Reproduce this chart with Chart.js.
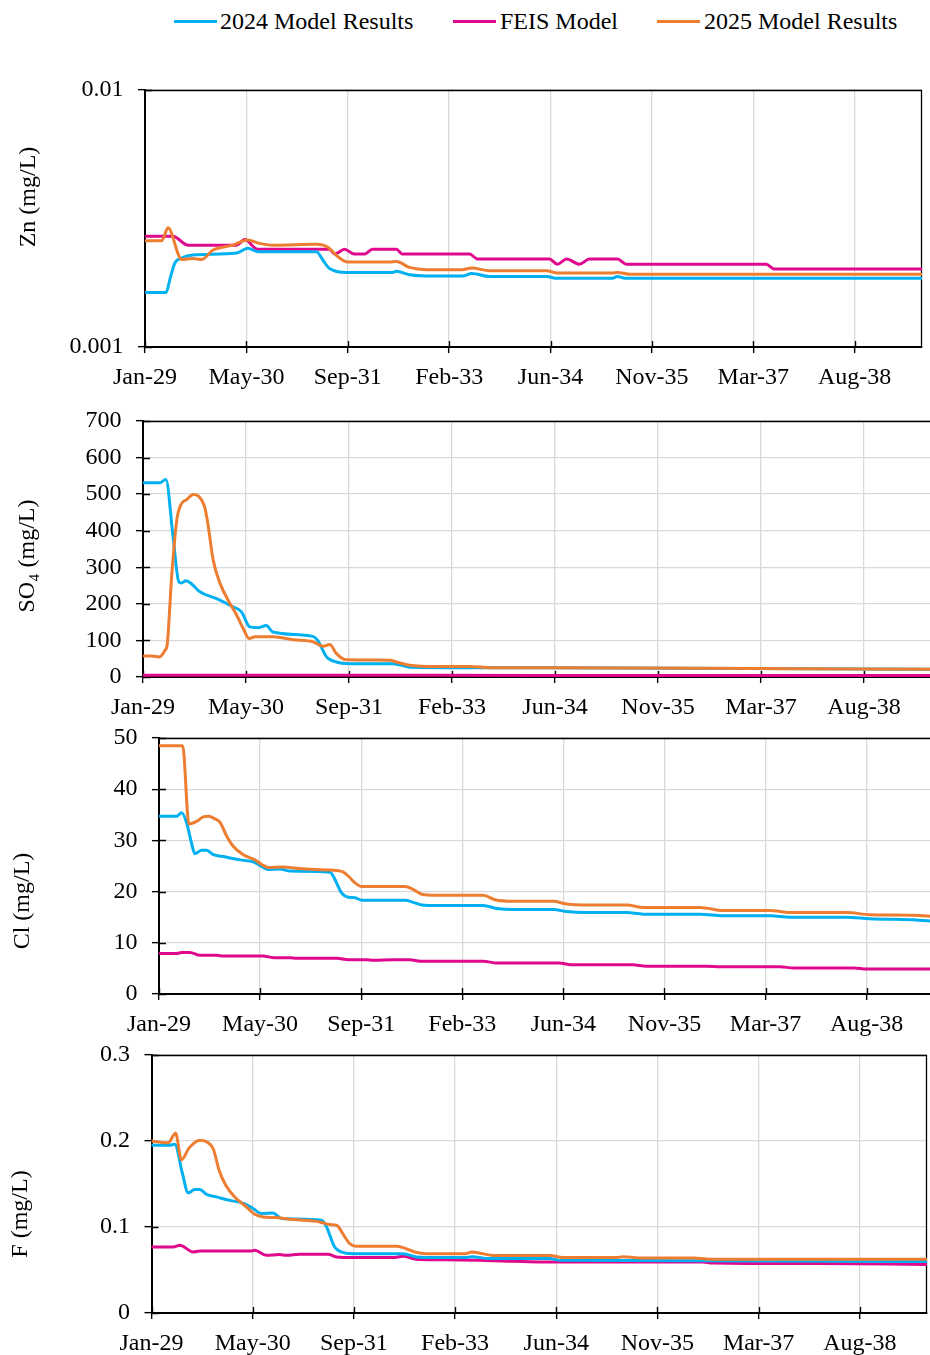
<!DOCTYPE html>
<html>
<head>
<meta charset="utf-8">
<script src="https://cdn.jsdelivr.net/npm/chart.js@4.4.1/dist/chart.umd.min.js"></script>
<style>
  html, body { margin:0; padding:0; background:#fff; width:930px; height:1355px; overflow:hidden; position:relative; font-family:"Liberation Serif", "Times New Roman", serif; }
  canvas { position:absolute; left:0; }
  .legtxt { position:absolute; top:6px; height:30px; line-height:30px; font-size:24px; color:#000; white-space:nowrap; }
  .legsw { position:absolute; top:19.5px; height:3px; width:43px; }
</style>
</head>
<body>
<div id="legend"></div>
<canvas id="c1"></canvas>
<canvas id="c2"></canvas>
<canvas id="c3"></canvas>
<canvas id="c4"></canvas>
<script>
// ---------------- DATA ----------------
const START_DATE = '2029-01-01';
const END_DATE = '2039-06-30';
const xTickLabels = ['Jan-29','May-30','Sep-31','Feb-33','Jun-34','Nov-35','Mar-37','Aug-38'];
const xTickStepDays = 500;

const seriesNames  = ['2024 Model Results', 'FEIS Model', '2025 Model Results'];
const seriesColors = ['#00B0F0', '#E0088C', '#ED7D31'];

const znYTicks  = [0.001, 0.01];
const so4YTicks = [0, 100, 200, 300, 400, 500, 600, 700];
const clYTicks  = [0, 10, 20, 30, 40, 50];
const fYTicks   = [0, 0.1, 0.2, 0.3];

// Zn (mg/L)
const zn2024 = [
  ['2029-01-01',0.00163],['2029-04-15',0.00163],['2029-05-05',0.00185],['2029-05-28',0.00212],
  ['2029-07-01',0.00222],['2029-08-24',0.00228],['2030-03-29',0.00232],['2030-05-22',0.00242],
  ['2030-07-11',0.00235],['2031-04-27',0.00235],['2031-05-28',0.00218],['2031-06-30',0.00202],
  ['2031-09-22',0.00195],['2032-05-06',0.00195],['2032-05-25',0.00197],['2032-07-28',0.00191],
  ['2032-10-20',0.00189],['2033-04-16',0.00189],['2033-05-31',0.00193],['2033-08-28',0.00188],
  ['2034-06-04',0.00188],['2034-07-28',0.00185],['2035-04-25',0.00185],['2035-05-20',0.00188],
  ['2035-07-03',0.00185],['2039-06-30',0.00185]
];
const znFeis = [
  ['2029-01-01',0.0027],['2029-05-19',0.0027],['2029-07-31',0.00249],['2030-03-29',0.00249],
  ['2030-05-08',0.00262],['2030-07-11',0.0024],['2031-06-30',0.0024],['2031-07-25',0.0023],
  ['2031-09-12',0.0024],['2031-10-31',0.0023],['2031-12-20',0.0023],['2032-01-28',0.0024],
  ['2032-05-25',0.0024],['2032-06-24',0.0023],['2033-05-21',0.0023],['2033-06-29',0.0022],
  ['2034-06-19',0.0022],['2034-07-28',0.0021],['2034-09-11',0.0022],['2034-11-14',0.0021],
  ['2035-01-02',0.0022],['2035-05-20',0.0022],['2035-07-03',0.0021],['2037-05-23',0.0021],
  ['2037-07-01',0.00201],['2039-06-30',0.00201]
];
const zn2025 = [
  ['2029-01-01',0.00259],['2029-03-25',0.00259],['2029-04-24',0.00291],['2029-07-01',0.00219],
  ['2029-08-24',0.00221],['2029-10-08',0.00219],['2029-12-01',0.00238],['2030-03-09',0.00249],
  ['2030-05-22',0.00261],['2030-07-20',0.00253],['2030-09-23',0.00249],['2031-04-27',0.00251],
  ['2031-06-20',0.00245],['2031-08-09',0.00225],['2031-09-27',0.00214],['2032-04-21',0.00214],
  ['2032-05-25',0.00215],['2032-07-28',0.00204],['2032-10-20',0.0020],['2033-04-16',0.0020],
  ['2033-05-31',0.00203],['2033-08-28',0.00198],['2034-06-04',0.00198],['2034-07-28',0.00194],
  ['2035-04-25',0.00194],['2035-05-20',0.00195],['2035-07-18',0.00192],['2039-06-30',0.00192]
];

// SO4 (mg/L)
const so42024 = [
  ['2029-01-01',531],['2029-03-24',531],['2029-04-22',540],['2029-05-27',383],['2029-06-24',260],
  ['2029-07-07',257],['2029-07-28',263],['2029-08-24',255],['2029-10-04',233],['2029-12-24',214],
  ['2030-03-13',192],['2030-04-24',178],['2030-06-03',137],['2030-07-12',135],['2030-08-23',141],
  ['2030-09-23',123],['2031-04-05',111],['2031-04-29',100],['2031-06-11',55],['2031-07-29',41],
  ['2031-10-02',36.5],['2032-04-30',36.5],['2032-07-19',27],['2034-06-01',25],['2039-06-30',21]
];
const so4Feis = [
  ['2029-01-01',5],['2033-01-01',4.5],['2039-06-30',4]
];
const so42025 = [
  ['2029-01-01',57.5],['2029-02-12',57.5],['2029-03-21',55],['2029-04-18',73],['2029-04-29',91],
  ['2029-05-20',274],['2029-06-14',429],['2029-07-03',470],['2029-08-01',485],['2029-09-02',499],
  ['2029-09-26',495],['2029-10-29',461],['2029-11-14',411],['2029-12-08',319],['2030-01-10',256],
  ['2030-02-27',201],['2030-04-01',169],['2030-05-03',132],['2030-06-01',105],['2030-06-29',110],
  ['2030-09-25',110],['2031-01-01',102],['2031-04-07',96],['2031-05-25',84],['2031-06-27',89],
  ['2031-07-29',64],['2031-09-16',47],['2032-04-14',46],['2032-05-16',41],['2032-07-19',32],
  ['2032-10-08',29],['2033-05-07',29],['2033-08-12',25.5],['2034-06-01',25],['2036-06-01',24],
  ['2039-06-30',21]
];

// Cl (mg/L)
const cl2024 = [
  ['2029-01-01',34.7],['2029-03-29',34.7],['2029-04-23',35.4],['2029-05-18',33.4],['2029-06-07',30.1],
  ['2029-06-28',27.4],['2029-07-31',28.1],['2029-08-25',28.1],['2029-09-27',27.2],['2029-11-07',26.9],
  ['2030-02-06',26.2],['2030-04-13',25.8],['2030-05-24',24.9],['2030-06-26',24.3],['2030-08-23',24.4],
  ['2030-10-11',24.0],['2031-04-27',23.8],['2031-05-13',23.0],['2031-06-24',19.7],['2031-07-27',18.9],
  ['2031-08-29',18.8],['2031-10-01',18.3],['2032-05-02',18.3],['2032-06-12',17.9],['2032-07-23',17.4],
  ['2032-10-06',17.3],['2033-05-24',17.3],['2033-07-29',16.7],['2033-10-19',16.5],['2034-05-05',16.5],
  ['2034-07-10',16.1],['2034-10-01',15.9],['2035-05-03',15.9],['2035-07-24',15.6],['2036-04-30',15.6],
  ['2036-08-23',15.3],['2037-04-11',15.3],['2037-07-19',15.0],['2038-04-24',15.0],['2038-08-18',14.7],
  ['2039-03-20',14.5],['2039-06-30',14.2]
];
const clFeis = [
  ['2029-01-01',7.9],['2029-03-29',7.9],['2029-04-23',8.1],['2029-06-03',8.1],['2029-07-23',7.55],
  ['2029-10-13',7.55],['2029-11-15',7.4],['2030-06-01',7.4],['2030-07-21',7.1],['2030-10-11',7.1],
  ['2030-11-13',7.0],['2031-05-30',7.0],['2031-07-27',6.7],['2031-10-25',6.7],['2031-11-27',6.6],
  ['2032-03-05',6.7],['2032-05-26',6.7],['2032-07-15',6.4],['2033-05-24',6.4],['2033-07-29',6.05],
  ['2034-06-01',6.05],['2034-08-11',5.7],['2035-06-01',5.7],['2035-08-09',5.4],['2036-06-01',5.4],
  ['2036-08-07',5.3],['2037-06-01',5.3],['2037-08-04',5.1],['2038-06-01',5.1],['2038-08-01',4.9],
  ['2039-06-30',4.9]
];
const cl2025 = [
  ['2029-01-01',48.5],['2029-04-28',48.5],['2029-05-29',33.2],['2029-07-06',33.7],['2029-08-08',34.6],
  ['2029-09-02',34.7],['2029-10-05',34.2],['2029-10-30',33.5],['2029-12-02',30.8],['2030-01-04',28.8],
  ['2030-02-22',27.2],['2030-04-21',26.2],['2030-05-24',25.3],['2030-06-26',24.7],['2030-08-23',24.8],
  ['2031-01-01',24.4],['2031-04-27',24.2],['2031-07-02',23.8],['2031-07-27',23.0],['2031-08-29',21.7],
  ['2031-10-01',21.0],['2032-05-02',21.0],['2032-06-12',20.4],['2032-07-23',19.5],['2032-10-06',19.3],
  ['2033-05-24',19.3],['2033-07-21',18.4],['2033-10-19',18.1],['2034-05-05',18.1],['2034-07-09',17.6],
  ['2034-10-01',17.4],['2035-05-03',17.4],['2035-07-24',16.9],['2036-04-30',16.9],['2036-08-23',16.3],
  ['2037-04-11',16.3],['2037-07-19',15.9],['2038-04-24',15.9],['2038-08-18',15.5],['2039-03-20',15.4],
  ['2039-06-30',15.1]
];

// F (mg/L)
const f2024 = [
  ['2029-01-01',0.195],['2029-04-01',0.195],['2029-04-26',0.1963],['2029-06-03',0.162],['2029-07-01',0.1397],
  ['2029-08-03',0.1436],['2029-08-28',0.1436],['2029-09-30',0.138],['2029-11-18',0.135],['2030-01-23',0.131],
  ['2030-04-07',0.127],['2030-05-18',0.1215],['2030-06-28',0.1156],['2030-08-24',0.1164],['2030-10-04',0.110],
  ['2031-04-20',0.1079],['2031-05-12',0.102],['2031-06-25',0.0767],['2031-07-28',0.071],['2031-09-23',0.069],
  ['2032-05-28',0.069],['2032-08-02',0.065],['2032-09-20',0.0644],['2033-04-01',0.0644],['2033-05-03',0.0655],
  ['2033-07-29',0.0633],['2034-05-23',0.0633],['2034-07-11',0.0613],['2039-06-30',0.0600]
];
const fFeis = [
  ['2029-01-01',0.0768],['2029-04-18',0.0768],['2029-05-21',0.0788],['2029-07-26',0.071],['2029-08-28',0.0722],
  ['2030-05-10',0.0722],['2030-05-26',0.073],['2030-07-22',0.0671],['2030-09-26',0.068],['2030-10-29',0.0671],
  ['2031-01-03',0.0683],['2031-05-23',0.0683],['2031-07-04',0.0652],['2031-09-23',0.0644],['2032-04-08',0.0644],
  ['2032-05-28',0.066],['2032-08-02',0.0625],['2032-10-23',0.062],['2033-06-01',0.0613],['2033-10-01',0.0605],
  ['2034-04-01',0.0594],['2036-06-17',0.0594],['2036-08-01',0.0582],['2038-01-01',0.0575],['2039-06-30',0.0565]
];
const f2025 = [
  ['2029-01-01',0.200],['2029-02-11',0.1987],['2029-03-24',0.198],['2029-04-30',0.209],['2029-05-29',0.178],
  ['2029-07-06',0.192],['2029-08-28',0.201],['2029-09-30',0.199],['2029-11-02',0.191],['2029-12-01',0.166],
  ['2030-01-03',0.1486],['2030-02-16',0.135],['2030-04-07',0.125],['2030-05-26',0.1148],['2030-07-06',0.1117],
  ['2030-09-10',0.111],['2030-12-02',0.1086],['2031-04-12',0.1059],['2031-06-01',0.1028],['2031-07-04',0.102],
  ['2031-08-14',0.0885],['2031-09-07',0.0807],['2031-10-10',0.0776],['2032-04-25',0.0776],['2032-05-28',0.076],
  ['2032-07-24',0.071],['2032-09-20',0.069],['2033-04-01',0.069],['2033-05-03',0.071],['2033-08-16',0.067],
  ['2034-05-23',0.067],['2034-07-27',0.0644],['2035-04-15',0.0644],['2035-05-20',0.0655],['2035-08-09',0.064],
  ['2036-05-01',0.064],['2036-07-21',0.0625],['2039-06-30',0.0625]
];

// ---------------- LAYOUT / DRAWING ----------------
const FONT = '"Liberation Serif", "Times New Roman", serif';
const FONT_SIZE = 24;
const toDays = s => (Date.parse(s) - Date.parse(START_DATE)) / 86400000;
const toPoints = arr => arr.map(([d, v]) => ({ x: toDays(d), y: v }));

const panels = [
  { id:'c1', title:'Zn (mg/L)', data:[zn2024, znFeis, zn2025], yType:'logarithmic', yTicks:znYTicks,
    plot:{ left:145, top:90, right:922, bottom:347 }, titlePos:[29, 197] },
  { id:'c2', title:'SO\u2084 (mg/L)', data:[so42024, so4Feis, so42025], yType:'linear', yTicks:so4YTicks,
    plot:{ left:143, top:421, right:932.4, bottom:677 }, titlePos:[28, 556] },
  { id:'c3', title:'Cl (mg/L)', data:[cl2024, clFeis, cl2025], yType:'linear', yTicks:clYTicks,
    plot:{ left:159, top:738, right:933.8, bottom:994 }, titlePos:[23, 901] },
  { id:'c4', title:'F (mg/L)', data:[f2024, fFeis, f2025], yType:'linear', yTicks:fYTicks,
    plot:{ left:151.5, top:1055, right:927, bottom:1313 }, titlePos:[21, 1214] }
];

// legend (shared, HTML text)
const legendPos = [{ line:174, text:220 }, { line:453, text:500 }, { line:657, text:704 }];
const legendEl = document.getElementById('legend');
seriesNames.forEach((name, i) => {
  const sw = document.createElement('div');
  sw.className = 'legsw';
  sw.style.left = legendPos[i].line + 'px';
  sw.style.background = seriesColors[i];
  legendEl.appendChild(sw);
  const t = document.createElement('div');
  t.className = 'legtxt';
  t.style.left = legendPos[i].text + 'px';
  t.textContent = name;
  legendEl.appendChild(t);
});

const framePlugin = {
  id: 'frame',
  beforeDatasetsDraw(chart) {
    const { ctx, chartArea: a, scales } = chart;
    const x = scales.x, y = scales.y;
    ctx.save();
    ctx.strokeStyle = '#000';
    ctx.lineWidth = 1.3;
    ctx.beginPath();
    ctx.moveTo(a.left, a.top + 0.5); ctx.lineTo(a.right, a.top + 0.5);
    ctx.moveTo(a.right - 0.5, a.top); ctx.lineTo(a.right - 0.5, a.bottom);
    ctx.stroke();
    ctx.lineWidth = 1.4;
    ctx.beginPath();
    x.ticks.forEach(t => { const px = Math.round(x.getPixelForValue(t.value)) + 0.5; ctx.moveTo(px, a.bottom); ctx.lineTo(px, a.bottom - 6); });
    y.ticks.forEach(t => { const py = Math.round(y.getPixelForValue(t.value)) + 0.5; ctx.moveTo(a.left, py); ctx.lineTo(a.left + 7, py); });
    ctx.stroke();
    ctx.restore();
  }
};

const yTitlePlugin = {
  id: 'yTitle',
  afterDraw(chart, args, opts) {
    const ctx = chart.ctx;
    ctx.save();
    ctx.translate(opts.x, opts.y);
    ctx.rotate(-Math.PI / 2);
    ctx.font = FONT_SIZE + 'px ' + FONT;
    ctx.fillStyle = '#000';
    ctx.textAlign = 'center';
    ctx.textBaseline = 'middle';
    ctx.fillText(opts.text, 0, 0);
    ctx.restore();
  }
};

function makeChart(p) {
  const padTop = 30, xAxisH = 50, padRight = 8;
  const W = Math.ceil(p.plot.right + padRight);
  const padR = W - p.plot.right;
  const H = (p.plot.bottom - p.plot.top) + padTop + xAxisH;
  const canvasTop = p.plot.top - padTop;
  const cv = document.getElementById(p.id);
  cv.width = W; cv.height = H;
  cv.style.width = W + 'px'; cv.style.height = H + 'px';
  cv.style.top = canvasTop + 'px';

  const order = [1, 2, 0]; // 2025 on top, then 2024, then FEIS
  const datasets = p.data.map((arr, i) => ({
    label: seriesNames[i],
    data: toPoints(arr),
    borderColor: seriesColors[i],
    backgroundColor: seriesColors[i],
    borderWidth: 3,
    pointRadius: 0,
    cubicInterpolationMode: 'monotone',
    borderJoinStyle: 'round',
    borderCapStyle: 'round',
    order: order[i],
    fill: false
  }));

  const yTicks = p.yTicks;
  new Chart(cv, {
    type: 'line',
    data: { datasets },
    plugins: [framePlugin, yTitlePlugin],
    options: {
      responsive: false,
      animation: false,
      devicePixelRatio: 1,
      parsing: false,
      layout: { padding: { top: padTop, right: padR, bottom: 0, left: 0 } },
      plugins: {
        legend: { display: false },
        tooltip: { enabled: false },
        yTitle: { text: p.title, x: p.titlePos[0], y: p.titlePos[1] - canvasTop }
      },
      scales: {
        x: {
          type: 'linear',
          min: 0,
          max: toDays(END_DATE),
          afterBuildTicks: s => { s.ticks = xTickLabels.map((_, i) => ({ value: i * xTickStepDays })); },
          afterFit: s => { s.height = xAxisH; },
          ticks: {
            callback: (v, i) => xTickLabels[i],
            autoSkip: false, maxRotation: 0, minRotation: 0,
            padding: 10, color: '#000',
            font: { family: FONT, size: FONT_SIZE }
          },
          grid: { color: '#d9d9d9', lineWidth: 1.3, tickColor: '#000', tickLength: 6, tickWidth: 1.4 },
          border: { color: '#000', width: 2 }
        },
        y: {
          type: p.yType,
          min: yTicks[0],
          max: yTicks[yTicks.length - 1],
          afterBuildTicks: s => { s.ticks = yTicks.map(v => ({ value: v })); },
          afterFit: s => { s.width = p.plot.left; },
          ticks: {
            callback: v => String(v),
            autoSkip: false,
            padding: 14.5, color: '#000',
            font: { family: FONT, size: FONT_SIZE }
          },
          grid: { color: '#d9d9d9', lineWidth: 1.3, tickColor: '#000', tickLength: 7, tickWidth: 1.4 },
          border: { color: '#000', width: 2 }
        }
      }
    }
  });
}

function drawAll() { panels.forEach(makeChart); }
if (document.fonts && document.fonts.load) {
  document.fonts.load('24px "Liberation Serif"').then(drawAll, drawAll);
} else {
  drawAll();
}
</script>
</body>
</html>
